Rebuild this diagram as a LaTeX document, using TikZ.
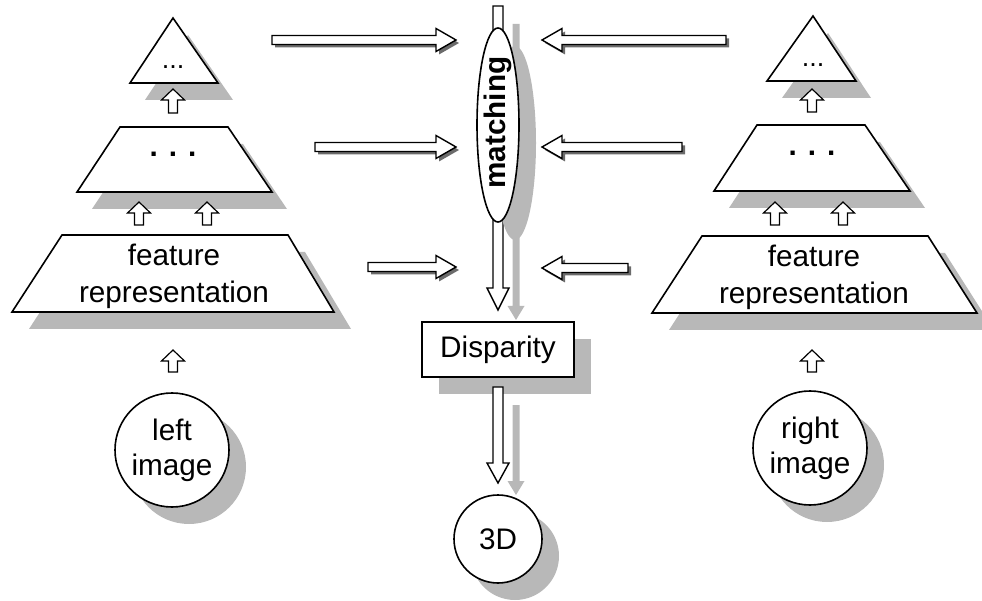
\documentclass[tikz,border=0pt]{standalone}
\usepackage{fontspec}
\setmainfont{Liberation Sans}
\usetikzlibrary{calc,shapes.geometric,shadows}
\definecolor{shadowc}{gray}{0.72}
\definecolor{ashadow}{gray}{0.42}
\newcommand{\bigfont}{\fontsize{29.7pt}{37pt}\selectfont}
\newcommand{\circfont}{\fontsize{29.7pt}{35pt}\selectfont}
% block arrow polygon: style, from, to, shaft half width, head half width, head length
\newcommand{\blkpoly}[6]{%
  \coordinate (bhH) at ($(#3)!#6!(#2)$);
  \draw[#1] ($(#2)!#4!90:(#3)$) -- ($(bhH)!#4!90:(#3)$) -- ($(bhH)!#5!90:(#3)$) -- (#3)
    -- ($(bhH)!#5!-90:(#3)$) -- ($(bhH)!#4!-90:(#3)$) -- ($(#2)!#4!-90:(#3)$) -- cycle;}
% block arrow with a dark drop shadow
\newcommand{\sharrow}[7]{%
  \coordinate (bsA) at ($(#1)+(#6,#7)$);
  \coordinate (bsB) at ($(#2)+(#6,#7)$);
  \blkpoly{draw=none,fill=ashadow}{bsA}{bsB}{#3}{#4}{#5}
  \blkpoly{blk}{#1}{#2}{#3}{#4}{#5}}
\tikzset{
  plate/.style={draw=black, fill=white, line width=1.6pt, line join=miter},
  shd/.style={fill=shadowc, draw=none},
  blk/.style={draw=black, fill=white, line width=1.4pt, line join=miter},
  sblk/.style={draw=black, fill=white, line width=1.2pt, line join=miter},
  nshadow/.style={drop shadow={shadow xshift=17pt, shadow yshift=-17pt, fill=shadowc, opacity=1}},
  lbl/.style={font=\bigfont, align=center, inner sep=0pt},
  clbl/.style={font=\circfont, align=center, inner sep=0pt}
}
\begin{document}
\begin{tikzpicture}[x=1pt, y=-1pt]
\useasboundingbox (0,0) rectangle (982,601);

% ---------- shadows of the pyramid levels ----------
\fill[shd, shift={(15,17)}] (173,18) -- (130,83) -- (218,83) -- cycle;
\fill[shd, shift={(15,17)}] (120,127) -- (228,127) -- (272,192) -- (77,192) -- cycle;
\fill[shd, shift={(17,17)}] (62,235) -- (288,235) -- (334,312) -- (12,312) -- cycle;
\fill[shd, shift={(15,17)}] (813,16) -- (767,81) -- (856,81) -- cycle;
\fill[shd, shift={(15,17)}] (757,125) -- (865,125) -- (910,191) -- (714,191) -- cycle;
\fill[shd, shift={(17,17)}] (702,236) -- (928,236) -- (977,313) -- (652,313) -- cycle;

% ---------- pyramid levels ----------
\draw[plate] (173,18) -- (130,83) -- (218,83) -- cycle;
\draw[plate] (120,127) -- (228,127) -- (272,192) -- (77,192) -- cycle;
\draw[plate] (62,235) -- (288,235) -- (334,312) -- (12,312) -- cycle;
\draw[plate] (813,16) -- (767,81) -- (856,81) -- cycle;
\draw[plate] (757,125) -- (865,125) -- (910,191) -- (714,191) -- cycle;
\draw[plate] (702,236) -- (928,236) -- (977,313) -- (652,313) -- cycle;

\node[inner sep=0pt, font=\fontsize{27pt}{27pt}\selectfont] (ltop) at (173,67) {...};
\node[inner sep=0pt, font=\bigfont\bfseries] (lmid) at (173,154) {. . .};
\node[lbl] (lfeat) at (174,276) {feature\\representation};
\node[inner sep=0pt, font=\fontsize{27pt}{27pt}\selectfont] (rtop) at (813,65) {...};
\node[inner sep=0pt, font=\bigfont\bfseries] (rmid) at (812,153) {. . .};
\node[lbl] (rfeat) at (814,277) {feature\\representation};

% ---------- input images ----------
\node[circle, plate, nshadow, clbl, minimum size=114pt] (limg) at (172,450) {left\\image};
\node[circle, plate, nshadow, clbl, minimum size=114pt] (rimg) at (810,448) {right\\image};

% ---------- small upward arrows ----------
\coordinate (la1) at (173,113); \coordinate (la1e) at (173,89);
\coordinate (la2) at (139,225); \coordinate (la2e) at (139,202);
\coordinate (la3) at (207,225); \coordinate (la3e) at (207,202);
\coordinate (la4) at (173,372); \coordinate (la4e) at (173,350);
\coordinate (ra1) at (812,112); \coordinate (ra1e) at (812,89);
\coordinate (ra2) at (775,225); \coordinate (ra2e) at (775,202);
\coordinate (ra3) at (843,225); \coordinate (ra3e) at (843,202);
\coordinate (ra4) at (812,372); \coordinate (ra4e) at (812,350);
\blkpoly{sblk}{la1}{la1e}{4.5pt}{11.5pt}{11pt}
\blkpoly{sblk}{la2}{la2e}{4.5pt}{11.5pt}{11pt}
\blkpoly{sblk}{la3}{la3e}{4.5pt}{11.5pt}{11pt}
\blkpoly{sblk}{la4}{la4e}{4.5pt}{11.5pt}{11pt}
\blkpoly{sblk}{ra1}{ra1e}{4.5pt}{11.5pt}{11pt}
\blkpoly{sblk}{ra2}{ra2e}{4.5pt}{11.5pt}{11pt}
\blkpoly{sblk}{ra3}{ra3e}{4.5pt}{11.5pt}{11pt}
\blkpoly{sblk}{ra4}{ra4e}{4.5pt}{11.5pt}{11pt}

% ---------- central vertical arrow through matching ----------
\coordinate (cs1) at (516,24); \coordinate (cs2) at (516,320);
\coordinate (c1) at (498,6); \coordinate (c2) at (498,310);
\blkpoly{draw=none,fill=shadowc}{cs1}{cs2}{3.5pt}{8.5pt}{14pt}
\blkpoly{blk}{c1}{c2}{5pt}{11pt}{22pt}

\node[ellipse, plate, inner sep=0pt, minimum width=42pt, minimum height=194pt,
      drop shadow={shadow xshift=17pt, shadow yshift=-18pt, fill=shadowc, opacity=1}] (mat) at (498,125) {};
\node[rotate=90, inner sep=0pt, font=\bigfont\bfseries] (mattxt) at ($(mat.center)+(0,-2.5)$) {matching};

% ---------- disparity and 3D ----------
\node[rectangle, plate, nshadow, minimum width=152pt, minimum height=55pt, font=\bigfont] (disp) at (498,349.5) {Disparity};
\coordinate (ds1) at (516,405); \coordinate (ds2) at (516,495);
\coordinate (d1) at (498,387); \coordinate (d2) at (498,483);
\blkpoly{draw=none,fill=shadowc}{ds1}{ds2}{3.5pt}{8.5pt}{14pt}
\blkpoly{blk}{d1}{d2}{5pt}{11pt}{20pt}
\node[circle, plate, nshadow, minimum size=88pt, font=\bigfont, inner sep=0pt] (td) at (498,539) {3D};

% ---------- horizontal arrows to matching ----------
\coordinate (h1a) at (272,40);  \coordinate (h1b) at (456,40);
\coordinate (h2a) at (315,147); \coordinate (h2b) at (456,147);
\coordinate (h3a) at (368,267); \coordinate (h3b) at (456,267);
\coordinate (h4a) at (726,40);  \coordinate (h4b) at (542,40);
\coordinate (h5a) at (682,147); \coordinate (h5b) at (542,147);
\coordinate (h6a) at (628,268); \coordinate (h6b) at (542,268);
\sharrow{h1a}{h1b}{4.5pt}{11.5pt}{20pt}{3}{3}
\sharrow{h2a}{h2b}{4.5pt}{11.5pt}{20pt}{3}{3}
\sharrow{h3a}{h3b}{4.5pt}{11.5pt}{20pt}{3}{3}
\sharrow{h4a}{h4b}{4.5pt}{11.5pt}{20pt}{3}{3}
\sharrow{h5a}{h5b}{4.5pt}{11.5pt}{20pt}{3}{3}
\sharrow{h6a}{h6b}{4.5pt}{11.5pt}{20pt}{3}{3}
\end{tikzpicture}
\end{document}
